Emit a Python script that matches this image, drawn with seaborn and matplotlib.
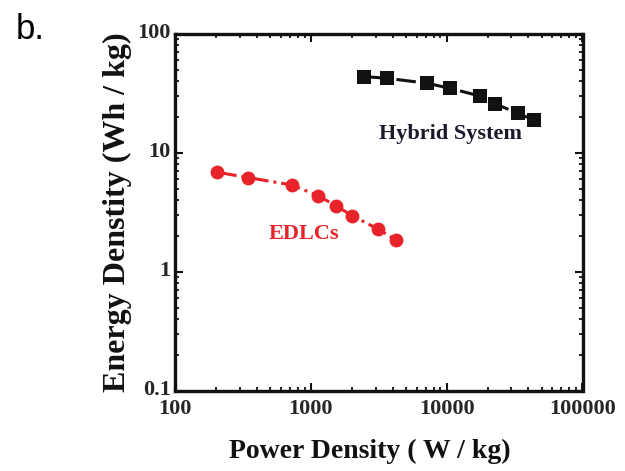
import numpy as np
import pandas as pd
import matplotlib
matplotlib.use("Agg")
import matplotlib.pyplot as plt
import matplotlib.transforms as mtransforms
import seaborn as sns
from matplotlib.ticker import LogLocator, FixedFormatter, FixedLocator, NullFormatter

# Data
hybrid_power = [2470, 3630, 7160, 10600, 17500, 22800, 33300, 43700]
hybrid_energy = [43.8, 42.4, 38.5, 34.9, 30.1, 25.8, 21.6, 18.9]
edlc_power = [205, 347, 724, 1125, 1536, 2026, 3148, 4230]
edlc_energy = [6.88, 6.20, 5.38, 4.38, 3.59, 2.96, 2.28, 1.86]
x_ticks = [100, 1000, 10000, 100000]
x_tick_labels = ["100", "1000", "10000", "100000"]
y_ticks = [0.1, 1, 10, 100]
y_tick_labels = ["0.1", "1", "10", "100"]

sns.set_style("ticks")
plt.rcParams['font.family'] = ['Liberation Serif', 'DejaVu Serif']
plt.rcParams['font.weight'] = 'bold'

fig = plt.figure(figsize=(6.25, 4.71), dpi=100)
ax = fig.add_axes([0.28, 0.170, 0.652, 0.758])

sns.lineplot(x=hybrid_power, y=hybrid_energy, ax=ax, color="#111111", marker="s",
             markersize=9.5, markeredgewidth=0, linestyle="-.", linewidth=2.2, estimator=None)
sns.lineplot(x=edlc_power, y=edlc_energy, ax=ax, color="#e8232a", marker="o",
             markersize=10, markeredgewidth=0, linestyle="-.", linewidth=2.2, estimator=None)

ax.set_xscale("log")
ax.set_yscale("log")
ax.set_xlim(100, 100000)
ax.set_ylim(0.1, 100)

ax.xaxis.set_major_locator(FixedLocator(x_ticks))
ax.xaxis.set_major_formatter(FixedFormatter(x_tick_labels))
ax.yaxis.set_major_locator(FixedLocator(y_ticks))
ax.yaxis.set_major_formatter(FixedFormatter(y_tick_labels))
ax.xaxis.set_minor_locator(LogLocator(base=10, subs=np.arange(2, 10)))
ax.yaxis.set_minor_locator(LogLocator(base=10, subs=np.arange(2, 10)))
ax.xaxis.set_minor_formatter(NullFormatter())
ax.yaxis.set_minor_formatter(NullFormatter())

ax.tick_params(which="both", direction="in", top=True, right=True, color="#111111")
ax.tick_params(which="major", length=6, width=1.5, labelsize=16, pad=3)
ax.tick_params(which="minor", length=3, width=1.3)
ax.tick_params(axis="x", which="major", pad=6)
for lbl in ax.get_xticklabels() + ax.get_yticklabels():
    lbl.set_fontweight("bold")
shift_up = mtransforms.ScaledTranslation(0, 3 / 100, fig.dpi_scale_trans)
for lbl in ax.get_yticklabels():
    lbl.set_transform(lbl.get_transform() + shift_up)
for s in ax.spines.values():
    s.set_linewidth(2.4)
    s.set_color("#111111")
    s.set_visible(True)

ax.set_xlabel("Power Density ( W / kg)", fontsize=20, fontweight="bold", color="#111111")
ax.xaxis.set_label_coords(0.4785, -0.135)
ax.set_ylabel("Energy Denstity (Wh / kg)", fontsize=23, fontweight="bold", labelpad=4, color="#111111")

ax.text(0.675, 0.72, "Hybrid System", transform=ax.transAxes, ha="center", va="center",
        fontsize=16, fontweight="bold", color="#1a1a2a")
ax.text(0.315, 0.44, "EDLCs", transform=ax.transAxes, ha="center", va="center",
        fontsize=16, fontweight="bold", color="#e8232a")

fig.text(0.025, 0.937, "b.", fontsize=25, family="Liberation Sans", fontweight="normal",
         ha="left", va="center", color="black")

fig.savefig("out.png", dpi=100)
